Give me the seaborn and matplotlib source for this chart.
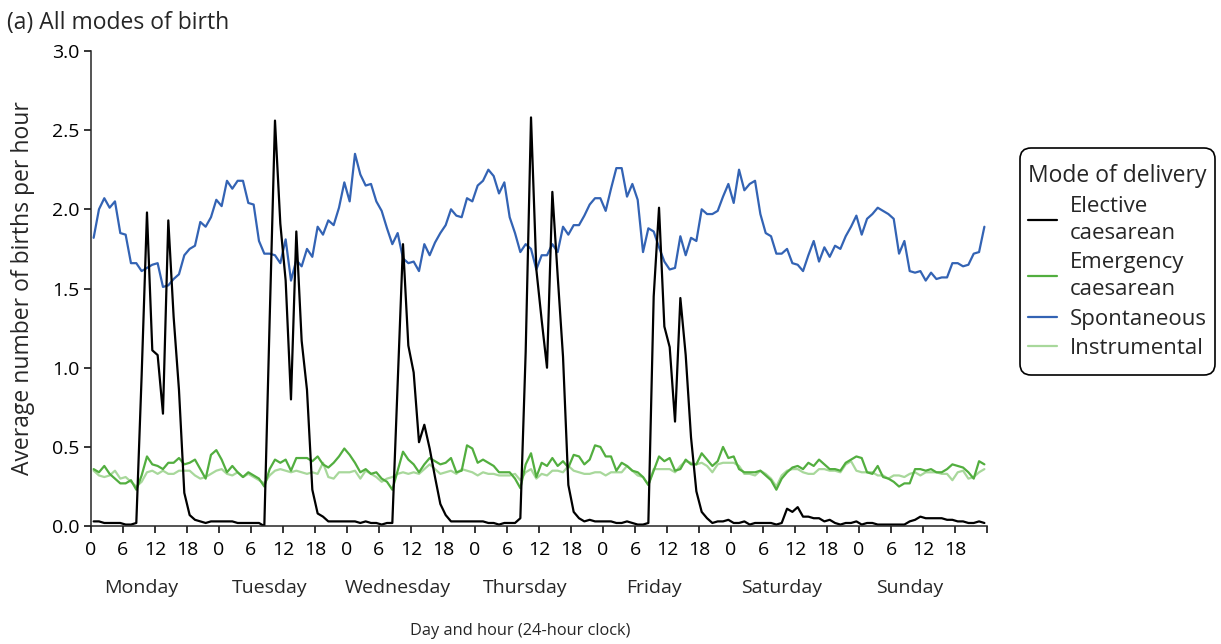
import numpy as np
import pandas as pd
import matplotlib
matplotlib.use("Agg")
import matplotlib.pyplot as plt
from matplotlib.patches import FancyBboxPatch
from matplotlib.transforms import blended_transform_factory, IdentityTransform
import seaborn as sns

days = ["Monday", "Tuesday", "Wednesday", "Thursday", "Friday", "Saturday", "Sunday"]
hour_labels = ["0", "6", "12", "18"]

# average births per hour, Monday 00:00 .. Sunday 23:00 (168 hourly values)
elective = [
    0.03, 0.03, 0.02, 0.02, 0.02, 0.02, 0.01, 0.01, 0.02, 0.95, 1.98, 1.11, 1.08, 0.71, 1.93, 1.32, 0.86, 0.21, 0.07, 0.04, 0.03, 0.02, 0.03, 0.03,
    0.03, 0.03, 0.03, 0.02, 0.02, 0.02, 0.02, 0.02, 0.00, 1.30, 2.56, 1.91, 1.55, 0.80, 1.86, 1.17, 0.86, 0.23, 0.08, 0.06, 0.03, 0.03, 0.03, 0.03,
    0.03, 0.03, 0.02, 0.03, 0.02, 0.02, 0.01, 0.02, 0.02, 0.90, 1.78, 1.14, 0.97, 0.53, 0.64, 0.49, 0.31, 0.14, 0.07, 0.03, 0.03, 0.03, 0.03, 0.03,
    0.03, 0.03, 0.02, 0.02, 0.01, 0.02, 0.02, 0.02, 0.05, 1.10, 2.58, 1.62, 1.30, 1.00, 2.11, 1.58, 1.07, 0.26, 0.09, 0.05, 0.03, 0.04, 0.03, 0.03,
    0.03, 0.03, 0.02, 0.02, 0.03, 0.02, 0.01, 0.01, 0.02, 1.45, 2.01, 1.26, 1.13, 0.66, 1.44, 1.08, 0.56, 0.22, 0.09, 0.05, 0.02, 0.03, 0.03, 0.04,
    0.02, 0.02, 0.03, 0.01, 0.02, 0.02, 0.02, 0.02, 0.01, 0.02, 0.11, 0.09, 0.12, 0.06, 0.06, 0.05, 0.05, 0.03, 0.04, 0.02, 0.01, 0.02, 0.02, 0.03,
    0.01, 0.02, 0.02, 0.01, 0.01, 0.01, 0.01, 0.01, 0.01, 0.03, 0.04, 0.06, 0.05, 0.05, 0.05, 0.05, 0.04, 0.04, 0.03, 0.03, 0.02, 0.02, 0.03, 0.02,
]
emergency = [
    0.36, 0.34, 0.38, 0.33, 0.30, 0.27, 0.27, 0.29, 0.23, 0.32, 0.44, 0.39, 0.38, 0.36, 0.40, 0.40, 0.43, 0.39, 0.40, 0.42, 0.36, 0.30, 0.45, 0.48,
    0.42, 0.34, 0.38, 0.34, 0.31, 0.34, 0.32, 0.30, 0.25, 0.36, 0.42, 0.40, 0.42, 0.35, 0.43, 0.43, 0.43, 0.41, 0.44, 0.39, 0.37, 0.40, 0.44, 0.49,
    0.45, 0.40, 0.34, 0.36, 0.33, 0.34, 0.30, 0.28, 0.23, 0.35, 0.47, 0.42, 0.39, 0.34, 0.39, 0.43, 0.41, 0.39, 0.40, 0.43, 0.34, 0.35, 0.51, 0.49,
    0.40, 0.42, 0.40, 0.38, 0.34, 0.34, 0.34, 0.30, 0.24, 0.39, 0.46, 0.31, 0.40, 0.38, 0.43, 0.38, 0.41, 0.37, 0.45, 0.44, 0.39, 0.42, 0.51, 0.50,
    0.44, 0.44, 0.35, 0.40, 0.38, 0.35, 0.34, 0.31, 0.26, 0.35, 0.44, 0.41, 0.43, 0.35, 0.36, 0.42, 0.39, 0.39, 0.46, 0.42, 0.38, 0.41, 0.50, 0.43,
    0.44, 0.36, 0.34, 0.34, 0.34, 0.35, 0.32, 0.29, 0.23, 0.30, 0.34, 0.37, 0.38, 0.36, 0.40, 0.38, 0.42, 0.39, 0.36, 0.36, 0.35, 0.40, 0.42, 0.44,
    0.43, 0.34, 0.33, 0.38, 0.31, 0.30, 0.28, 0.25, 0.27, 0.27, 0.36, 0.36, 0.35, 0.36, 0.34, 0.34, 0.36, 0.39, 0.38, 0.37, 0.34, 0.30, 0.41, 0.39,
]
spontaneous = [
    1.82, 2.00, 2.07, 2.01, 2.05, 1.85, 1.84, 1.66, 1.66, 1.61, 1.63, 1.65, 1.66, 1.51, 1.52, 1.56, 1.59, 1.71, 1.75, 1.77, 1.92, 1.89, 1.95, 2.06,
    2.02, 2.18, 2.13, 2.18, 2.18, 2.04, 2.03, 1.80, 1.72, 1.72, 1.71, 1.66, 1.81, 1.55, 1.68, 1.64, 1.75, 1.70, 1.89, 1.84, 1.93, 1.90, 2.01, 2.17,
    2.05, 2.35, 2.22, 2.15, 2.16, 2.05, 1.99, 1.88, 1.78, 1.85, 1.69, 1.66, 1.67, 1.61, 1.78, 1.71, 1.79, 1.85, 1.90, 2.00, 1.96, 1.95, 2.07, 2.05,
    2.15, 2.18, 2.25, 2.21, 2.10, 2.17, 1.95, 1.85, 1.73, 1.78, 1.75, 1.62, 1.71, 1.71, 1.78, 1.73, 1.89, 1.84, 1.90, 1.90, 1.96, 2.03, 2.07, 2.07,
    1.99, 2.13, 2.26, 2.26, 2.08, 2.16, 2.06, 1.73, 1.88, 1.86, 1.76, 1.67, 1.62, 1.63, 1.83, 1.71, 1.82, 1.80, 2.00, 1.97, 1.97, 1.99, 2.08, 2.16,
    2.04, 2.25, 2.12, 2.16, 2.18, 1.97, 1.85, 1.83, 1.72, 1.72, 1.75, 1.66, 1.65, 1.61, 1.71, 1.80, 1.67, 1.76, 1.70, 1.77, 1.75, 1.83, 1.89, 1.96,
    1.84, 1.94, 1.97, 2.01, 1.99, 1.97, 1.94, 1.72, 1.80, 1.61, 1.60, 1.61, 1.55, 1.60, 1.56, 1.57, 1.57, 1.66, 1.66, 1.64, 1.65, 1.72, 1.73, 1.89,
]
instrumental = [
    0.35, 0.32, 0.31, 0.32, 0.35, 0.30, 0.31, 0.28, 0.25, 0.28, 0.34, 0.35, 0.33, 0.35, 0.33, 0.33, 0.35, 0.35, 0.35, 0.32, 0.30, 0.31, 0.33, 0.35,
    0.36, 0.33, 0.32, 0.34, 0.31, 0.33, 0.31, 0.29, 0.27, 0.32, 0.35, 0.36, 0.35, 0.34, 0.35, 0.34, 0.33, 0.34, 0.33, 0.40, 0.31, 0.30, 0.34, 0.34,
    0.34, 0.35, 0.30, 0.35, 0.33, 0.31, 0.28, 0.30, 0.31, 0.33, 0.34, 0.33, 0.34, 0.33, 0.36, 0.39, 0.36, 0.33, 0.34, 0.35, 0.33, 0.36, 0.35, 0.34,
    0.32, 0.34, 0.33, 0.33, 0.32, 0.32, 0.32, 0.33, 0.29, 0.34, 0.36, 0.30, 0.33, 0.32, 0.35, 0.35, 0.34, 0.38, 0.35, 0.34, 0.33, 0.33, 0.34, 0.34,
    0.32, 0.34, 0.34, 0.34, 0.38, 0.35, 0.32, 0.31, 0.26, 0.36, 0.36, 0.36, 0.36, 0.34, 0.38, 0.41, 0.40, 0.39, 0.40, 0.38, 0.34, 0.39, 0.40, 0.40,
    0.40, 0.38, 0.33, 0.33, 0.32, 0.35, 0.33, 0.30, 0.25, 0.32, 0.35, 0.36, 0.36, 0.34, 0.33, 0.33, 0.36, 0.36, 0.35, 0.35, 0.34, 0.39, 0.41, 0.35,
    0.34, 0.34, 0.34, 0.32, 0.32, 0.30, 0.32, 0.32, 0.31, 0.33, 0.34, 0.32, 0.34, 0.34, 0.34, 0.33, 0.33, 0.29, 0.34, 0.35, 0.30, 0.31, 0.34, 0.36,
]

modes = ["Elective\ncaesarean", "Emergency\ncaesarean", "Spontaneous", "Instrumental"]
colors = {"Elective\ncaesarean": "#000000", "Emergency\ncaesarean": "#52ae3f",
          "Spontaneous": "#3363b4", "Instrumental": "#a8d89b"}

hours = np.arange(len(spontaneous)) + 0.5
df = pd.concat([
    pd.DataFrame({"hour": hours, "births": vals, "mode": name})
    for name, vals in zip(modes, [elective, emergency, spontaneous, instrumental])
], ignore_index=True)

sns.set_style("ticks")
plt.rcParams["font.family"] = ["Open Sans", "DejaVu Sans"]
plt.rcParams["axes.linewidth"] = 1.1

fig = plt.figure(figsize=(12.21, 6.44), dpi=100)
ax = fig.add_axes([0.0745, 0.183, 0.7339, 0.738])

draw_order = ["Instrumental", "Emergency\ncaesarean", "Spontaneous", "Elective\ncaesarean"]
for name in draw_order:
    sns.lineplot(data=df[df["mode"] == name], x="hour", y="births", color=colors[name],
                 linewidth=1.6, ax=ax, label=name, legend=False)

ax.set_xlim(0, 168)
ax.set_ylim(0, 3.0)
ax.set_yticks(np.arange(0, 3.01, 0.5))
ax.set_yticklabels([f"{v:.1f}" for v in np.arange(0, 3.01, 0.5)])
xt = np.arange(0, 169, 6)
ax.set_xticks(xt)
ax.set_xticklabels([hour_labels[(t // 6) % 4] if t < 168 else "" for t in xt])
ax.tick_params(axis="both", labelsize=14, length=5, width=1.1, color="black", labelcolor="black")
ax.tick_params(axis="x", pad=6)
ax.set_xlabel("")
ax.set_ylabel("Average number of births per hour", fontsize=16.5, labelpad=12)
sns.despine(ax=ax)

trans = blended_transform_factory(ax.transData, ax.transAxes)
for d, day in enumerate(days):
    ax.text(d * 24 + 9.5, -0.13, day, transform=trans, ha="center", va="center", fontsize=14)
ax.text(80.5, -0.22, "Day and hour (24-hour clock)", transform=trans, ha="center", va="center", fontsize=11.8)

fig.text(0.006, 0.965, "(a) All modes of birth", ha="left", va="center", fontsize=16.5)

handles, labels = ax.get_legend_handles_labels()
hmap = dict(zip(labels, handles))
leg = ax.legend([hmap[m] for m in modes], modes, title="Mode of delivery",
                loc="center left", bbox_to_anchor=(0.8277, 0.594), bbox_transform=fig.transFigure,
                fontsize=16, title_fontsize=16.5, frameon=False,
                handlelength=1.3, handletextpad=0.55, labelspacing=0.38,
                borderpad=0.3, alignment="left")
for t in leg.get_texts():
    t.set_linespacing(1.35)

# rounded legend frame (pixel coordinates of the figure canvas)
W, H = fig.get_size_inches() * fig.dpi
frame = FancyBboxPatch((1020, H - 375), 195, 227, boxstyle="round,pad=0,rounding_size=11",
                       transform=IdentityTransform(), facecolor="none", edgecolor="black",
                       linewidth=1.2, zorder=5)
fig.patches.append(frame)

fig.savefig("out.png", dpi=100)
